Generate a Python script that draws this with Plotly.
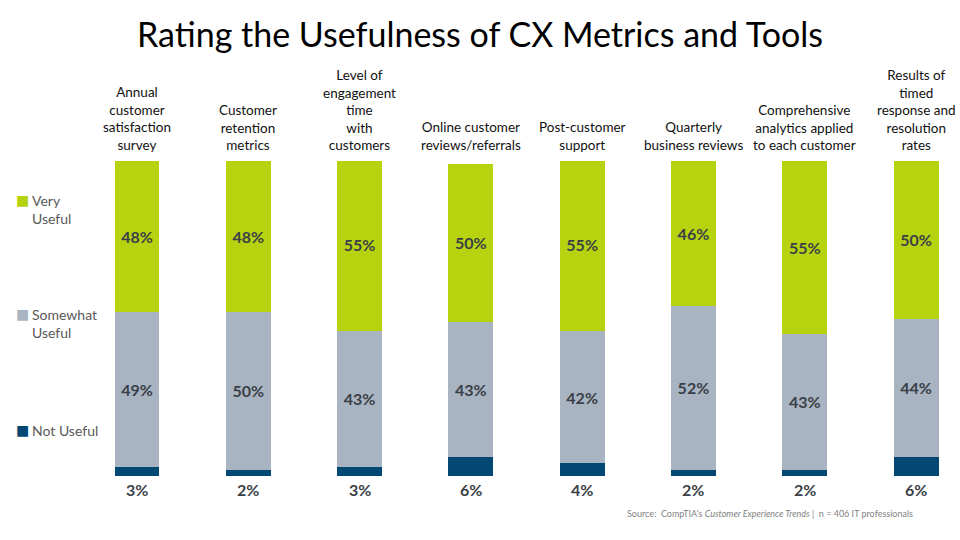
import plotly.graph_objects as go

categories = [
    "Annual<br>customer<br>satisfaction<br>survey",
    "Customer<br>retention<br>metrics",
    "Level of<br>engagement<br>time<br>with<br>customers",
    "Online customer<br>reviews/referrals",
    "Post-customer<br>support",
    "Quarterly<br>business reviews",
    "Comprehensive<br>analytics applied<br>to each customer",
    "Results of<br>timed<br>response and<br>resolution<br>rates",
]
not_useful = [3, 2, 3, 6, 4, 2, 2, 6]
somewhat_useful = [49, 50, 43, 43, 42, 52, 43, 44]
very_useful = [48, 48, 55, 50, 55, 46, 55, 50]
series_names = ["Not Useful", "Somewhat Useful", "Very Useful"]
legend_series = ["Very Useful", "Somewhat Useful", "Not Useful"]
legend_labels = ["Very<br>Useful", "Somewhat<br>Useful", "Not Useful"]

colors = {"Not Useful": "#034872", "Somewhat Useful": "#A8B4C2", "Very Useful": "#B7D30F"}
label_color = "#3B3F47"
FONT = "Lato, 'Open Sans', sans-serif"

L, R, T, B = 81, 0, 161, 64
PW, PH = 960 - L - R, 540 - T - B

x = list(range(len(categories)))
fig = go.Figure()
for name, vals in zip(series_names, [not_useful, somewhat_useful, very_useful]):
    show_text = name != "Not Useful"
    fig.add_trace(go.Bar(
        x=x, y=vals, name=name, marker_color=colors[name], marker_line_width=0,
        width=0.404,
        text=[f"{v}%" for v in vals] if show_text else None,
        textposition="inside" if show_text else "none",
        insidetextanchor="middle", textangle=0, constraintext="none",
        textfont=dict(family=FONT, size=16, color=label_color, weight="bold"),
        hoverinfo="skip",
    ))

# Percent labels below bars for "Not Useful"
for xi, v in zip(x, not_useful):
    fig.add_annotation(x=xi, y=0, xref="x", yref="y", text=f"<b>{v}%</b>",
                       showarrow=False, yanchor="top", yshift=-2,
                       font=dict(family=FONT, size=16, color=label_color))

# Category headers above bars
for xi, c in zip(x, categories):
    fig.add_annotation(x=xi, y=1, xref="x", yref="paper", text=c,
                       showarrow=False, yanchor="bottom", yshift=6,
                       font=dict(family=FONT, size=13.5, color="#111111"))

# Custom legend on the left (square + label)
leg_py = [200, 314, 430]
for py, lbl, name in zip(leg_py, legend_labels, legend_series):
    yp = (540 - B - py) / PH
    fig.add_annotation(x=(14 - L) / PW, y=yp, xref="paper", yref="paper",
                       xanchor="left", yanchor="middle", showarrow=False, align="left",
                       text=f"<span style='color:{colors[name]}'>■</span>",
                       font=dict(family="DejaVu Sans", size=14))
    fig.add_annotation(x=(30 - L) / PW, y=yp, xref="paper", yref="paper",
                       xanchor="left", yanchor="top", yshift=10, showarrow=False, align="left",
                       text=lbl, font=dict(family=FONT, size=14, color="#595959"))

fig.add_annotation(x=(915 - L) / PW, y=(540 - B - 513) / PH, xref="paper", yref="paper",
                   xanchor="right", yanchor="middle", showarrow=False,
                   text="Source:  CompTIA's <i>Customer Experience Trends</i> |  n = 406 IT professionals",
                   font=dict(family=FONT, size=9, color="#7F7F7F"))

fig.update_layout(
    width=960, height=540,
    margin=dict(l=L, r=R, t=T, b=B),
    plot_bgcolor="white", paper_bgcolor="white",
    barmode="stack", showlegend=False, hovermode=False,
    title=dict(text="Rating the Usefulness of CX Metrics and Tools",
               x=0.5, xanchor="center", y=0.935, yanchor="middle",
               font=dict(family=FONT, size=34, color="#000000")),
    xaxis=dict(range=[-0.503, 7.395], visible=False, fixedrange=True),
    yaxis=dict(range=[0, 100], visible=False, fixedrange=True),
)

fig.write_html("out.html", config={"displayModeBar": False},
               post_script="document.body.style.margin='0px';")
